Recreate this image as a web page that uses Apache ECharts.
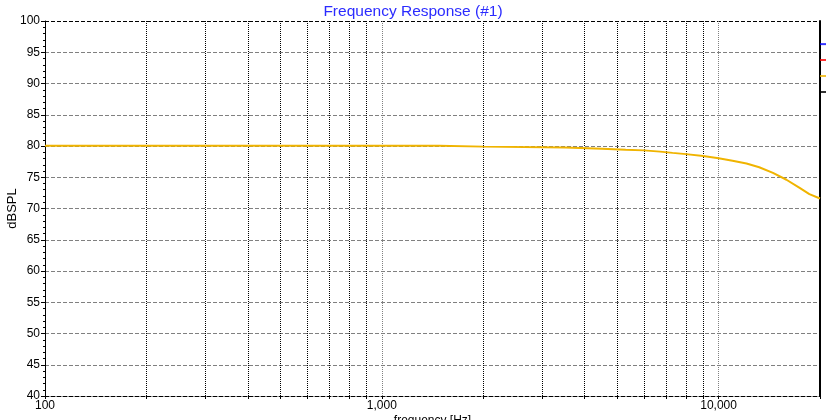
<!DOCTYPE html>
<html>
<head>
<meta charset="utf-8">
<script src="https://cdn.jsdelivr.net/npm/echarts@6/dist/echarts.min.js"></script>
<style>html,body{margin:0;padding:0;background:#fff}#c{width:826px;height:420px}</style>
</head>
<body>
<div id="c"></div>
<script>
// Frequency response data
var freqHz = [100, 1480, 2000, 3500, 4500, 5300, 6000, 6700, 7300, 8000, 9000, 10000, 11000, 12100, 13200, 14500, 15900, 17400, 18600, 20000];
var splDb  = [80.05, 80.05, 79.9, 79.75, 79.55, 79.4, 79.3, 79.1, 78.9, 78.7, 78.4, 78.05, 77.65, 77.2, 76.6, 75.7, 74.6, 73.3, 72.3, 71.6];
var gridFreqs = [100, 200, 300, 400, 500, 600, 700, 800, 900, 1000, 2000, 3000, 4000, 5000, 6000, 7000, 8000, 9000, 10000, 20000];
var xLabelFreqs = [100, 1000, 10000];
var markerLevels = [96.3, 93.76, 91.2, 88.64];
var markerColors = ['#0000ff', '#ff0000', '#f0b400', '#000000'];

var chart = echarts.init(document.getElementById('c'));
var font = 'Liberation Sans, Arial, sans-serif';
var ySplitColors = ['#000000'];
for (var i = 0; i < 11; i++) ySplitColors.push('#808080');
ySplitColors.push('#000000');

chart.setOption({
  animation: false,
  backgroundColor: '#ffffff',
  title: {
    text: 'Frequency Response (#1)',
    left: 'center', top: -1,
    textStyle: { color: '#2b2bff', fontSize: 15.5, fontWeight: 'normal', fontFamily: font }
  },
  grid: { left: 45, right: 6, top: 21, bottom: 24, containLabel: false, outerBoundsMode: 'none' },
  xAxis: {
    type: 'log', logBase: 10, min: 100, max: 20000,
    name: 'frequency [Hz]', nameLocation: 'middle', nameGap: 19, nameMoveOverlap: false,
    nameTextStyle: { color: '#000', fontSize: 12, fontFamily: font },
    axisLine: { show: true, lineStyle: { color: '#000', type: 'dashed', width: 1 } },
    axisTick: { show: true, length: 3, customValues: gridFreqs, lineStyle: { color: '#000' } },
    axisLabel: {
      customValues: xLabelFreqs, color: '#000', fontSize: 12, fontFamily: font, margin: 4,
      formatter: function (v) { return Number(v).toLocaleString('en-US'); }
    },
    splitLine: {
      show: true,
      lineStyle: { color: ['#808080', '#000', '#000', '#000', '#000', '#000', '#000', '#000', '#000'], type: 'dotted', width: 1 }
    },
    minorTick: { show: false }
  },
  yAxis: [{
    type: 'value', min: 40, max: 100, interval: 5,
    name: 'dBSPL', nameLocation: 'middle', nameGap: 26, nameRotate: 90, nameMoveOverlap: false,
    nameTextStyle: { color: '#000', fontSize: 13, fontFamily: font },
    axisLine: { show: true, lineStyle: { color: '#000', width: 1 } },
    axisTick: { show: true, length: 4, lineStyle: { color: '#000' } },
    minorTick: { show: true, splitNumber: 5, length: 2, lineStyle: { color: '#000' } },
    axisLabel: { color: '#000', fontSize: 12, fontFamily: font, margin: 5 },
    splitLine: { show: true, showMinLine: true, showMaxLine: true, lineStyle: { color: ySplitColors, type: 'dashed', width: 1 } }
  }, {
    type: 'value', min: 40, max: 100, position: 'right',
    axisLine: { show: true, onZero: false, lineStyle: { color: '#000', width: 2 } },
    axisTick: { show: false }, axisLabel: { show: false }, splitLine: { show: false }
  }],
  series: [{
    type: 'line',
    data: freqHz.map(function (f, i) { return [f, splDb[i]]; }),
    showSymbol: false, symbol: 'none',
    lineStyle: { color: '#f0b400', width: 2 },
    z: 5
  }, {
    type: 'scatter',
    clip: false,
    symbol: 'rect', symbolSize: [6, 2], symbolOffset: [3, 0],
    data: markerLevels.map(function (v, i) { return { value: [20000, v], itemStyle: { color: markerColors[i] } }; }),
    z: 6
  }]
});
</script>
</body>
</html>
